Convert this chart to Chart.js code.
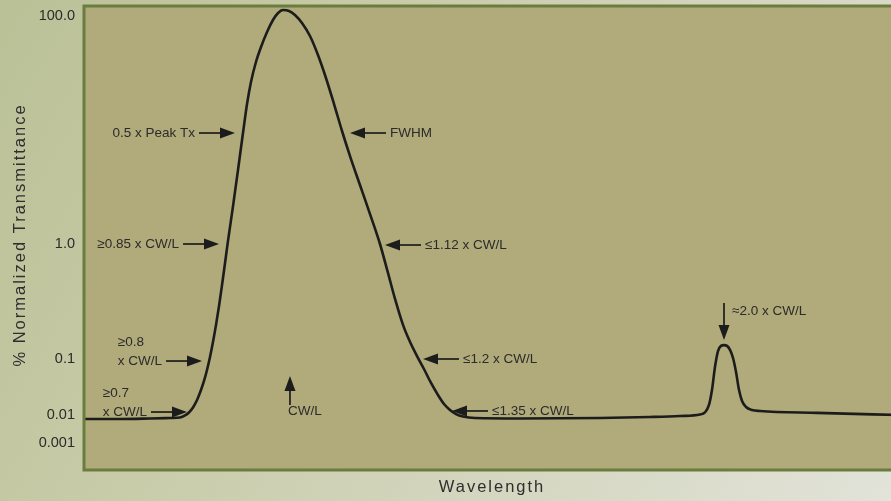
<!DOCTYPE html>
<html>
<head>
<meta charset="utf-8">
<script src="https://cdn.jsdelivr.net/npm/chart.js@4/dist/chart.umd.min.js"></script>
<style>
  html, body { margin: 0; padding: 0; }
  body {
    width: 891px; height: 501px; overflow: hidden;
    background: linear-gradient(120deg, #bac096 0%, #c8cca9 35%, #d6d8c3 70%, #e2e3d9 100%);
  }
  #c { display: block; width: 900px; height: 501px; }
</style>
</head>
<body>
<canvas id="c" width="900" height="501"></canvas>
<script>
// ---------------- DATA ----------------
// Wavelength (nm, schematic) and % normalized transmittance
const WAVELENGTH_NM = [
  250, 291.9, 326.8, 350.1, 361.8, 367.6, 372.2, 376.9, 381.6, 386.2, 389.7,
  393.2, 396.7, 400.2, 403.7, 407.2, 410.7, 414.2, 417.6, 423.5, 429.3, 435.1,
  439.8, 444.4, 450.2, 456.1, 463.1, 470.0, 475.9, 481.7, 488.7, 495.6, 503.8,
  513.1, 522.4, 531.7, 541.1, 550.4, 559.7, 571.3, 583.0, 594.6, 603.9, 612.1,
  621.4, 629.5, 637.7, 645.8, 654.0, 662.1, 669.1, 676.1, 683.1, 691.2, 705.2,
  757.6, 850.7, 908.9, 943.9, 967.1, 972.9, 977.6, 981.1, 984.6, 988.1, 991.6,
  995.1, 998.6, 1002.1, 1005.6, 1009.1, 1012.6, 1016.1, 1020.7, 1027.7, 1037.0,
  1103.4, 1200
];
const TRANSMITTANCE_PCT = [
  0.0072, 0.0072, 0.0075, 0.00781, 0.00815, 0.0096, 0.0111, 0.0136, 0.0185,
  0.0279, 0.0405, 0.0637, 0.104, 0.141, 0.198, 0.289, 0.440, 0.684, 1.06, 2.15,
  4.46, 9.41, 16.9, 26.4, 39.5, 53.5, 72.4, 92.2, 106.3, 112.9, 110.6, 102.1,
  86.9, 66.8, 45.5, 28.6, 16.9, 9.80, 5.91, 3.29, 1.83, 1.0, 0.560, 0.333,
  0.198, 0.141, 0.106, 0.0663, 0.0373, 0.0228, 0.0157, 0.0123, 0.0104, 0.00884,
  0.00781, 0.0075, 0.00781, 0.00849, 0.0092, 0.0102, 0.0111, 0.0151, 0.0279,
  0.0720, 0.117, 0.130, 0.132, 0.130, 0.120, 0.102, 0.0586, 0.0279, 0.0178,
  0.0139, 0.0123, 0.0118, 0.0109, 0.0100
];
const Y_TICK_VALUES = [0.001, 0.01, 0.1, 1, 100];
const Y_TICK_LABELS = ['0.001', '0.01', '0.1', '1.0', '100.0'];
const X_TITLE = 'Wavelength';
const Y_TITLE = '% Normalized Transmittance';

// Callouts: label lines, arrow tip in data units (nm, %T), arrow direction
const CALLOUTS = [
  { lines: ['0.5 x Peak Tx'], x: 425.8, y: 9.41, dir: 'right' },
  { lines: ['FWHM'], x: 559.7, y: 9.41, dir: 'left' },
  { lines: ['\u22650.85 x CW/L'], x: 407.2, y: 1.0, dir: 'right' },
  { lines: ['\u22641.12 x CW/L'], x: 600.4, y: 0.98, dir: 'left' },
  { lines: ['\u22650.8', 'x CW/L'], x: 387.4, y: 0.092, dir: 'right' },
  { lines: ['\u22650.7', 'x CW/L'], x: 369.9, y: 0.0113, dir: 'right' },
  { lines: ['CW/L'], x: 489.8, y: 0.0497, dir: 'up' },
  { lines: ['\u22641.2 x CW/L'], x: 644.7, y: 0.1, dir: 'left' },
  { lines: ['\u22641.35 x CW/L'], x: 678.4, y: 0.0118, dir: 'left' },
  { lines: ['\u22482.0 x CW/L'], x: 995.1, y: 0.146, dir: 'down' }
];

// Schematic (non-uniform) y axis: decade breakpoints [log10(%T), axis units]
const Y_AXIS_BREAKS = [[-3, 27], [-2, 55], [-1, 111], [0, 226], [2, 454]];
const Y_AXIS_MAX = 464;

function toAxis(v) {
  const L = Math.log10(v);
  const b = Y_AXIS_BREAKS;
  let i = 0;
  if (L <= b[0][0]) i = 0;
  else if (L >= b[b.length - 1][0]) i = b.length - 2;
  else { while (!(L >= b[i][0] && L <= b[i + 1][0])) i++; }
  const [l0, u0] = b[i], [l1, u1] = b[i + 1];
  return u0 + (L - l0) * (u1 - u0) / (l1 - l0);
}

// ---------------- STYLE ----------------
const PLOT_FILL = '#b1aa7a';
const PLOT_BORDER = '#6b7d3e';
const INK = '#1c1c1c';
const TEXT = '#2b2b2b';
const FONT = '"Liberation Sans", Arial, sans-serif';

const plotFrame = {
  id: 'plotFrame',
  beforeDatasetsDraw(chart) {
    const { ctx, chartArea: a } = chart;
    ctx.save();
    ctx.fillStyle = PLOT_FILL;
    ctx.fillRect(a.left, a.top, a.right - a.left, a.bottom - a.top);
    ctx.restore();
  },
  afterDatasetsDraw(chart) {
    const { ctx, chartArea: a, scales } = chart;
    ctx.save();
    ctx.strokeStyle = PLOT_BORDER;
    ctx.lineWidth = 3;
    ctx.strokeRect(a.left, a.top, a.right - a.left, a.bottom - a.top);

    // callouts
    const AL = 36, HL = 15, HW = 5.5;
    ctx.fillStyle = INK; ctx.strokeStyle = INK; ctx.lineWidth = 1.7;
    ctx.font = '13.5px ' + FONT;
    ctx.textBaseline = 'middle';
    const head = (tx, ty, dx, dy) => {
      const px = -dy, py = dx;
      ctx.beginPath();
      ctx.moveTo(tx, ty);
      ctx.lineTo(tx - dx * HL + px * HW, ty - dy * HL + py * HW);
      ctx.lineTo(tx - dx * HL - px * HW, ty - dy * HL - py * HW);
      ctx.closePath(); ctx.fill();
    };
    CALLOUTS.forEach(c => {
      const tx = scales.x.getPixelForValue(c.x);
      const ty = scales.y.getPixelForValue(toAxis(c.y));
      const n = c.lines.length;
      if (c.dir === 'right' || c.dir === 'left') {
        const s = c.dir === 'right' ? 1 : -1;
        const tail = tx - s * AL;
        ctx.beginPath(); ctx.moveTo(tail, ty); ctx.lineTo(tx - s * HL + s, ty); ctx.stroke();
        ctx.fillStyle = INK; head(tx, ty, s, 0);
        ctx.fillStyle = TEXT;
        ctx.textAlign = 'left';
        let left;
        if (s === 1) left = tail - 4 - ctx.measureText(c.lines[n - 1]).width;
        else left = tail + 4;
        c.lines.forEach((t, k) => ctx.fillText(t, left, ty - (n - 1 - k) * 19));
      } else if (c.dir === 'up') {
        ctx.beginPath(); ctx.moveTo(tx, ty + 29); ctx.lineTo(tx, ty + HL - 1); ctx.stroke();
        ctx.fillStyle = INK; head(tx, ty, 0, -1);
        ctx.fillStyle = TEXT; ctx.textAlign = 'left';
        ctx.fillText(c.lines[0], tx - 2, ty + 35);
      } else {
        ctx.beginPath(); ctx.moveTo(tx, ty - 37); ctx.lineTo(tx, ty - HL + 1); ctx.stroke();
        ctx.fillStyle = INK; head(tx, ty, 0, 1);
        ctx.fillStyle = TEXT; ctx.textAlign = 'left';
        ctx.fillText(c.lines[0], tx + 8, ty - 29);
      }
    });

    // axis titles (letter-spaced)
    ctx.fillStyle = '#2e2e2e';
    ctx.font = '16.5px ' + FONT;
    try { ctx.letterSpacing = '2px'; } catch (e) {}
    ctx.textAlign = 'center'; ctx.textBaseline = 'middle';
    ctx.fillText(X_TITLE, (a.left + a.right) / 2, 487);
    ctx.save();
    ctx.translate(20, (a.top + a.bottom) / 2 - 3);
    ctx.rotate(-Math.PI / 2);
    ctx.fillText(Y_TITLE, 0, 0);
    ctx.restore();
    ctx.restore();
  }
};

new Chart(document.getElementById('c'), {
  type: 'line',
  data: {
    datasets: [{
      data: WAVELENGTH_NM.map((x, i) => ({ x, y: toAxis(TRANSMITTANCE_PCT[i]) })),
      borderColor: INK,
      borderWidth: 2.6,
      pointRadius: 0,
      fill: false,
      cubicInterpolationMode: 'monotone'
    }]
  },
  options: {
    responsive: false,
    animation: false,
    events: [],
    layout: { padding: { left: 0, right: 0, top: 6, bottom: 31 } },
    plugins: { legend: { display: false }, tooltip: { enabled: false } },
    scales: {
      x: { type: 'linear', min: 250, max: 1200, display: false },
      y: {
        type: 'linear', min: 0, max: Y_AXIS_MAX,
        grid: { display: false, drawTicks: false },
        border: { display: false },
        afterBuildTicks: s => { s.ticks = Y_TICK_VALUES.map(v => ({ value: toAxis(v) })); },
        afterFit: s => { s.width = 84; s.paddingTop = 0; s.paddingBottom = 0; },
        ticks: {
          autoSkip: false,
          padding: 9,
          color: TEXT,
          font: { family: FONT, size: 14.5 },
          callback: (v, i) => Y_TICK_LABELS[i]
        }
      }
    }
  },
  plugins: [plotFrame]
});
</script>
</body>
</html>
